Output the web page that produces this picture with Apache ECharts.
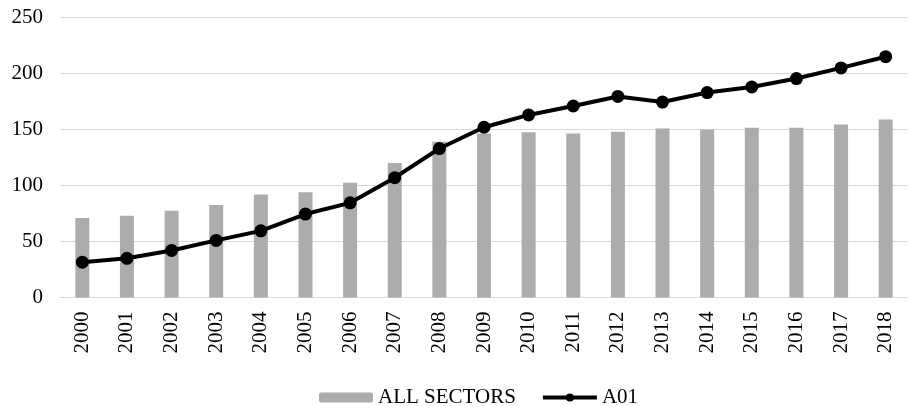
<!DOCTYPE html>
<html>
<head>
<meta charset="utf-8">
<script src="https://cdn.jsdelivr.net/npm/echarts@6/dist/echarts.min.js"></script>
<style>
    html, body { margin: 0; padding: 0; background: #fff; }
    #chart { width: 908px; height: 406px; }
</style>
</head>
<body>
<div id="chart"></div>
<script>
    // data
    var years = ["2000", "2001", "2002", "2003", "2004", "2005", "2006", "2007", "2008", "2009",
                 "2010", "2011", "2012", "2013", "2014", "2015", "2016", "2017", "2018"];
    var allSectors = [71, 73, 77.5, 82.5, 92, 94, 102.5, 120, 139, 146.5,
                      147.5, 146.5, 148, 151, 150, 151.5, 151.5, 154.5, 159];
    var a01 = [31.5, 35, 42, 51, 59.5, 74.5, 84.5, 107, 133, 152,
               163, 171, 179.5, 174.5, 183, 188, 195.5, 205, 215];

    var font = "Liberation Serif";
    var chart = echarts.init(document.getElementById("chart"));

    chart.setOption({
        animation: false,
        textStyle: { fontFamily: font, color: "#000" },
        grid: { left: 60, top: 17.5, width: 856, height: 280 },
        legend: {
            top: 382,
            left: 314,
            itemWidth: 54,
            itemHeight: 10,
            itemGap: 25,
            lineStyle: { width: 4, color: "#000" },
            textStyle: { fontFamily: font, fontSize: 21, color: "#000" },
            data: ["ALL SECTORS", "A01"]
        },
        xAxis: {
            type: "category",
            data: years,
            axisTick: { show: false },
            axisLine: { lineStyle: { color: "#d9d9d9", width: 1 } },
            axisLabel: { rotate: 90, margin: 14, fontFamily: font, fontSize: 21, color: "#000" }
        },
        yAxis: {
            type: "value",
            min: 0,
            max: 250,
            interval: 50,
            axisLine: { show: false },
            axisTick: { show: false },
            splitLine: { lineStyle: { color: "#d9d9d9", width: 1 } },
            axisLabel: { margin: 17, fontFamily: font, fontSize: 21, color: "#000" }
        },
        series: [
            {
                name: "ALL SECTORS",
                type: "bar",
                data: allSectors,
                barWidth: 14,
                itemStyle: { color: "#aeabab" }
            },
            {
                name: "A01",
                type: "line",
                data: a01,
                symbol: "circle",
                symbolSize: 13,
                lineStyle: { color: "#000", width: 4 },
                itemStyle: { color: "#000" }
            }
        ]
    });
</script>
</body>
</html>
